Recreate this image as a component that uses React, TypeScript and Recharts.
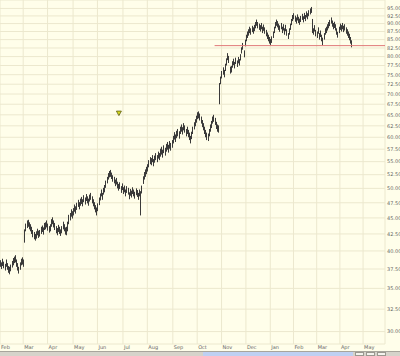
import React from 'react';
import { ComposedChart, Bar, XAxis, YAxis, CartesianGrid, ReferenceLine, ReferenceDot } from 'recharts';

// month gridlines, as trading-day index
const monthLabels = ['Feb', 'Mar', 'Apr', 'May', 'Jun', 'Jul', 'Aug', 'Sep', 'Oct', 'Nov', 'Dec', 'Jan', 'Feb', 'Mar', 'Apr', 'May'];
const monthStarts = [0, 20, 41, 63, 84, 106, 127, 149, 170, 191, 212, 233, 253, 273, 293, 313];

const priceTicks = [30, 32.5, 35, 37.5, 40, 42.5, 45, 47.5, 50, 52.5, 55, 57.5, 60, 62.5, 65, 67.5, 70, 72.5, 75, 77.5, 80, 82.5, 85, 87.5, 90, 92.5, 95];

// daily [low, high]
const earlyBars = [
  [37.8, 38.7], [37.5, 38.4], [37.9, 38.9], [37.6, 38.5], [37.3, 38.2], [37.8, 38.8], [37.4, 38.3], [37.0, 37.9],
  [36.8, 37.8], [37.2, 38.1], [37.7, 38.6], [38.0, 39.0], [38.3, 39.2], [38.4, 39.4], [37.8, 38.8], [37.3, 38.3],
  [36.9, 37.8], [37.4, 38.4], [38.0, 38.9], [38.1, 39.1], [37.8, 38.8],
  [41.2, 43.2], [42.9, 44.1], [43.4, 44.6], [43.6, 44.7], [43.2, 44.3], [42.9, 44.0], [42.5, 43.6], [42.0, 43.1],
  [41.7, 42.8], [41.5, 42.5], [41.8, 42.9], [42.3, 43.3], [41.9, 43.0], [42.1, 43.1], [42.5, 43.6], [42.8, 43.8],
  [42.4, 43.5], [43.1, 44.2], [43.2, 44.3], [43.5, 44.6], [43.0, 44.1], [42.7, 43.7], [42.9, 44.0], [43.6, 44.8],
  [44.0, 45.1], [43.5, 44.6], [43.1, 44.2], [42.6, 43.7], [42.3, 43.4], [42.8, 43.9], [42.5, 43.6], [42.2, 43.2],
  [42.6, 43.7], [43.2, 44.4], [42.9, 44.0], [42.4, 43.5], [42.3, 43.6], [42.9, 44.4], [44.0, 45.5],
];

const springBars = [
  [44.6, 45.8], [45.2, 46.4], [44.9, 46.1], [45.4, 46.6], [46.0, 47.2], [45.7, 46.9], [46.3, 47.5], [46.8, 48.0],
  [46.4, 47.6], [47.0, 48.2], [47.3, 48.5], [46.9, 48.1], [47.6, 48.8], [47.2, 48.4], [47.8, 49.0], [47.4, 48.6],
  [47.0, 48.2], [47.7, 48.9], [48.0, 49.2], [47.4, 48.6], [46.9, 48.1], [46.4, 47.6], [45.9, 47.1], [45.4, 46.7],
  [46.1, 47.4], [47.1, 48.4], [47.9, 49.1], [48.6, 49.8], [48.0, 49.2], [48.9, 50.1], [49.3, 50.6], [50.1, 51.4],
  [50.9, 52.1], [51.6, 52.8], [52.0, 53.2], [52.1, 53.4], [51.7, 52.9], [51.2, 52.4], [50.9, 52.1], [50.4, 51.6],
  [50.7, 51.9], [50.0, 51.2], [49.6, 50.8], [49.9, 51.1], [49.2, 50.4], [49.7, 50.9], [49.0, 50.2], [49.3, 50.5],
  [48.6, 49.8], [49.2, 50.4], [48.9, 50.1], [48.1, 49.3], [48.7, 49.9], [48.4, 49.6], [49.0, 50.2], [48.6, 49.8],
  [48.2, 49.4], [48.8, 50.0], [48.5, 49.7], [48.0, 49.2], [48.6, 49.8],
];

const summerBars = [
  [45.4, 49.5], [49.1, 50.5], [50.8, 52.2], [51.6, 53.0], [52.1, 53.5], [52.6, 54.0], [53.1, 54.5], [53.9, 55.3],
  [54.5, 55.9], [54.3, 55.7], [54.9, 56.3], [54.1, 55.5], [54.8, 56.2], [55.3, 56.7], [54.9, 56.3], [55.6, 57.0],
  [55.3, 56.7], [56.0, 57.6], [56.4, 58.0], [55.8, 57.4], [56.7, 58.3], [56.2, 57.8], [57.0, 58.6], [57.4, 59.0],
  [56.8, 58.4], [57.6, 59.2], [57.2, 58.8], [57.8, 59.4], [58.7, 60.3], [59.5, 61.1], [59.0, 60.6], [59.8, 61.4],
  [60.2, 61.8], [59.7, 61.3], [60.7, 62.3], [61.2, 62.8], [60.6, 62.2], [61.5, 63.1], [61.0, 62.6], [60.2, 61.8],
  [60.7, 62.3], [60.0, 61.6], [59.4, 61.0], [58.7, 60.3], [59.6, 61.2], [60.7, 62.3], [61.7, 63.3], [62.4, 64.0],
  [63.2, 64.8], [64.0, 65.6], [64.2, 65.8], [63.7, 65.3], [63.0, 64.6], [62.2, 63.8], [61.5, 63.1], [60.7, 62.3],
  [60.0, 61.6], [59.4, 61.0], [59.2, 60.8], [60.2, 61.8], [61.2, 62.8], [62.0, 63.6], [63.0, 64.6], [63.4, 65.0],
  [62.7, 64.3], [61.8, 63.4], [61.2, 62.8], [61.0, 62.6],
];

const breakoutBars = [
  [67.5, 72.8], [72.5, 74.5], [74.0, 76.0], [75.0, 77.0], [74.3, 76.3], [76.0, 78.0], [77.5, 79.5], [79.0, 81.0],
  [78.2, 80.2], [75.3, 77.2], [75.6, 77.4], [76.9, 78.7], [77.6, 79.4], [76.7, 78.5], [77.9, 79.7], [77.1, 78.9],
  [78.1, 79.9], [77.5, 79.3], [78.9, 80.7], [80.9, 82.7], [82.0, 84.0], [79.8, 81.8], [83.0, 85.0], [84.5, 86.5],
  [85.5, 87.5], [86.2, 88.2], [87.0, 89.0], [86.5, 88.5], [87.3, 89.3], [86.8, 88.8], [87.6, 89.6], [88.5, 90.5],
  [89.3, 91.3], [88.5, 90.5], [88.0, 90.0], [87.5, 89.5], [88.2, 90.2], [87.0, 89.0], [87.7, 89.7], [86.8, 88.8],
  [86.0, 88.0], [85.2, 87.2], [84.5, 86.5], [83.8, 85.8], [83.4, 85.2], [84.0, 86.0],
];

const toppingBars = [
  [85.5, 87.5], [87.0, 89.0], [88.5, 90.5], [89.3, 91.3], [88.8, 90.8], [88.0, 90.0], [87.4, 89.4], [88.2, 90.2],
  [87.0, 89.0], [87.8, 89.8], [86.5, 88.5], [87.6, 89.6], [86.2, 88.2], [85.2, 87.0], [86.5, 88.5], [88.0, 90.0],
  [89.5, 91.5], [90.8, 92.8], [91.4, 93.4], [90.6, 92.6], [90.0, 92.0], [91.0, 93.0], [90.2, 92.2], [89.6, 91.6],
  [90.5, 92.5], [91.2, 93.2], [90.4, 92.4], [91.5, 93.5], [90.8, 92.8], [92.0, 94.0], [91.4, 93.4], [92.4, 94.4],
  [93.0, 95.0], [93.5, 95.5], [87.0, 91.5], [86.5, 88.5], [87.5, 89.5], [86.0, 88.0], [85.5, 87.5], [86.8, 88.8],
  [85.0, 87.0], [85.8, 87.8], [84.5, 86.5], [83.3, 85.6], [85.0, 87.0], [86.5, 88.5], [87.0, 89.0], [87.8, 89.8],
  [88.5, 90.5], [89.2, 91.2], [90.0, 92.0], [89.0, 91.0], [88.2, 90.2], [88.6, 90.6], [87.8, 89.8], [86.5, 88.5],
  [85.6, 87.4], [87.0, 89.0], [88.0, 90.0], [87.5, 89.5], [88.2, 90.2], [87.3, 89.3], [87.8, 89.8], [86.8, 88.8],
  [86.2, 88.2], [85.5, 87.5], [84.8, 86.8], [83.8, 85.8], [82.7, 84.8],
];

const supportLevel = 83.2;
const supportFrom = 185;
const signalDay = 102.5;
const signalPrice = 65.4;

const allBars = [...earlyBars, ...springBars, ...summerBars, ...breakoutBars, ...toppingBars];
const data = allBars.map(([lo, hi], i) => ({ day: i, range: [lo, hi] }));

const X_MAX = 331.9;

const Stick = (props: any) => {
  const { x, y, width, height } = props;
  if (x == null || y == null || height == null) return null;
  const top = Math.min(y, y + height);
  const h = Math.max(Math.abs(height), 1);
  return <rect x={Math.round(x + width / 2)} y={top} width={1} height={h} fill="#3a3a3a" />;
};

const MonthTick = ({ x, y, payload }: any) => {
  const idx = monthStarts.indexOf(payload.value);
  return (
    <text x={x + 1} y={y + 4.5} fontSize={5} fill="#666" textAnchor="start">
      {monthLabels[idx]}
    </text>
  );
};

const PriceTick = ({ x, y, payload }: any) => (
  <text x={x} y={y + 1.8} fontSize={5} fill="#666" textAnchor="start">
    {payload.value.toFixed(2)}
  </text>
);

const Marker = (p: any) => (
  <path
    d={`M${p.cx - 2.5},${p.cy - 2} L${p.cx + 2.5},${p.cy - 2} L${p.cx},${p.cy + 2.5} Z`}
    fill="#D8DC1E"
    stroke="#5c5a10"
    strokeWidth={0.8}
  />
);

export default function App() {
  return (
    <div style={{ position: 'absolute', left: 0, top: 0, width: 400, height: 356, background: '#FFFEEA', fontFamily: 'DejaVu Sans' }}>
      <ComposedChart width={400} height={351} data={data} margin={{ top: 0, right: 0, left: 0, bottom: 0 }}>
        <CartesianGrid stroke="#ECE8CE" strokeWidth={1} />
        <XAxis
          dataKey="day"
          type="number"
          domain={[0, X_MAX]}
          ticks={monthStarts}
          interval={0}
          tick={<MonthTick />}
          tickLine={false}
          tickSize={0}
          tickMargin={0}
          axisLine={false}
          height={7}
          allowDataOverflow
        />
        <YAxis
          orientation="right"
          scale="log"
          domain={[28.7, 97.9]}
          ticks={priceTicks}
          interval={0}
          tick={<PriceTick />}
          tickLine={false}
          tickSize={0}
          tickMargin={2}
          axisLine={false}
          width={15}
          allowDataOverflow
        />
        <ReferenceLine
          segment={[{ x: supportFrom, y: supportLevel }, { x: X_MAX, y: supportLevel }]}
          stroke="#E07A7A"
          strokeWidth={1}
        />
        <Bar dataKey="range" barSize={1} shape={<Stick />} isAnimationActive={false} />
        <ReferenceDot x={signalDay} y={signalPrice} shape={<Marker />} />
      </ComposedChart>
      <div style={{ position: 'absolute', left: 0, top: 351, width: 400, height: 5, background: '#D6D3CA', borderTop: '1px solid #A8A59C', boxSizing: 'border-box' }}>
        <div style={{ position: 'absolute', left: 203, top: 0, width: 150, height: 4, background: '#BFD0F2' }} />
        <div style={{ position: 'absolute', left: 355, top: 0, width: 9, height: 4, background: '#F4F3EE', border: '1px solid #9A988F', boxSizing: 'border-box' }} />
        <div style={{ position: 'absolute', left: 366, top: 0, width: 9, height: 4, background: '#F4F3EE', border: '1px solid #9A988F', boxSizing: 'border-box' }} />
        <div style={{ position: 'absolute', left: 377, top: 0, width: 9, height: 4, background: '#F4F3EE', border: '1px solid #9A988F', boxSizing: 'border-box' }} />
      </div>
    </div>
  );
}
